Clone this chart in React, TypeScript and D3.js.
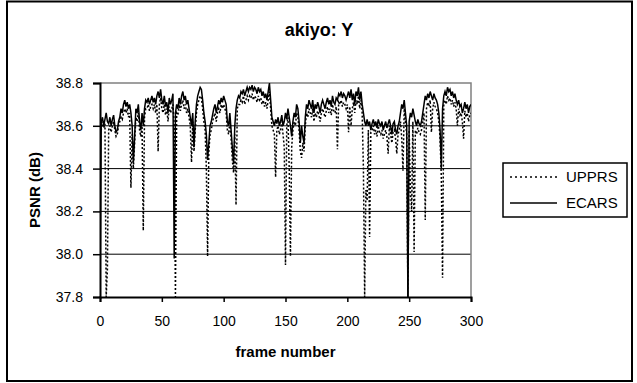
import * as d3 from 'd3';
import { useEffect, useRef } from 'react';

const chartTitle = 'akiyo: Y';
const xLabel = 'frame number';
const yLabel = 'PSNR (dB)';
const xTicks = [0, 50, 100, 150, 200, 250, 300];
const yTicks = [37.8, 38.0, 38.2, 38.4, 38.6, 38.8];
const seriesNames = ['UPPRS', 'ECARS'];

// frame 0..300
const upprs = [
  38.60, 38.58, 38.62, 38.59, 38.61, 37.80, 37.93, 38.58, 38.60, 38.57,
  38.60, 38.62, 38.58, 38.55, 38.56, 38.60, 38.62, 38.64, 38.63, 38.66,
  38.68, 38.66, 38.68, 38.64, 38.66, 38.31, 38.56, 38.40, 38.52, 38.64,
  38.62, 38.66, 38.58, 38.55, 38.60, 38.11, 38.64, 38.68, 38.68, 38.70,
  38.67, 38.69, 38.70, 38.68, 38.70, 38.66, 38.70, 38.48, 38.70, 38.73,
  38.68, 38.66, 38.70, 38.65, 38.68, 38.62, 38.69, 38.66, 38.68, 38.70,
  38.60, 37.80, 38.66, 38.65, 38.70, 38.67, 38.70, 38.72, 38.68, 38.70,
  38.66, 38.68, 38.64, 38.60, 38.43, 38.62, 38.48, 38.58, 38.66, 38.70,
  38.72, 38.74, 38.73, 38.68, 38.62, 38.58, 38.40, 37.99, 38.48, 38.56,
  38.58, 38.62, 38.64, 38.66, 38.62, 38.66, 38.68, 38.66, 38.70, 38.68,
  38.70, 38.68, 38.66, 38.58, 38.56, 38.62, 38.54, 38.44, 38.38, 38.56,
  38.23, 38.68, 38.70, 38.70, 38.72, 38.71, 38.74, 38.70, 38.72, 38.74,
  38.72, 38.74, 38.73, 38.75, 38.72, 38.74, 38.73, 38.71, 38.74, 38.72,
  38.73, 38.70, 38.72, 38.69, 38.71, 38.68, 38.72, 38.76, 38.68, 38.60,
  38.58, 38.56, 38.36, 38.58, 38.60, 38.56, 38.58, 38.62, 38.56, 38.50,
  37.95, 38.60, 38.64, 38.40, 37.99, 38.50, 38.58, 38.62, 38.60, 38.66,
  38.64, 38.58, 38.48, 38.45, 38.52, 38.48, 38.60, 38.66, 38.64, 38.68,
  38.66, 38.64, 38.68, 38.62, 38.66, 38.64, 38.67, 38.65, 38.62, 38.66,
  38.68, 38.66, 38.64, 38.67, 38.69, 38.66, 38.68, 38.65, 38.70, 38.67,
  38.66, 38.69, 38.49, 38.71, 38.70, 38.72, 38.69, 38.71, 38.70, 38.68,
  38.70, 38.57, 38.69, 38.60, 38.68, 38.71, 38.66, 38.72, 38.70, 38.74,
  38.68, 38.72, 38.66, 38.40, 37.80, 38.30, 38.25, 38.58, 38.08, 38.57,
  38.58, 38.60, 38.56, 38.58, 38.55, 38.60, 38.57, 38.56, 38.58, 38.54,
  38.56, 38.58, 38.55, 38.47, 38.60, 38.56, 38.52, 38.57, 38.58, 38.54,
  38.47, 38.56, 38.58, 38.62, 38.54, 38.39, 38.68, 38.62, 38.56, 37.80,
  38.58, 38.30, 38.20, 38.62, 38.01, 38.58, 38.56, 38.59, 38.57, 38.56,
  38.58, 38.62, 38.66, 38.16, 38.68, 38.71, 38.69, 38.72, 38.57, 38.68,
  38.71, 38.69, 38.68, 38.66, 38.62, 38.54, 38.36, 37.89, 38.70, 38.72,
  38.70, 38.74, 38.72, 38.73, 38.70, 38.72, 38.69, 38.71, 38.68, 38.60,
  38.68, 38.65, 38.66, 38.62, 38.54, 38.67, 38.64, 38.66, 38.62, 38.65,
  38.66,
];

const ecars = [
  37.78, 38.62, 38.64, 38.60, 38.63, 38.66, 38.62, 38.61, 38.64, 38.60,
  38.63, 38.65, 38.60, 38.57, 38.58, 38.62, 38.64, 38.68, 38.66, 38.70,
  38.72, 38.69, 38.71, 38.68, 38.70, 38.66, 38.60, 38.43, 38.55, 38.68,
  38.66, 38.70, 38.62, 38.58, 38.66, 38.60, 38.68, 38.72, 38.71, 38.73,
  38.70, 38.72, 38.74, 38.71, 38.73, 38.70, 38.74, 38.76, 38.73, 38.77,
  38.72, 38.70, 38.74, 38.69, 38.71, 38.66, 38.73, 38.70, 38.72, 38.75,
  37.98, 38.66, 38.70, 38.68, 38.73, 38.70, 38.74, 38.76, 38.72, 38.74,
  38.70, 38.72, 38.68, 38.64, 38.60, 38.66, 38.50, 38.62, 38.70, 38.74,
  38.76, 38.78, 38.77, 38.72, 38.66, 38.62, 38.56, 38.44, 38.52, 38.60,
  38.62, 38.65, 38.68, 38.70, 38.66, 38.69, 38.72, 38.70, 38.73, 38.71,
  38.74, 38.72, 38.70, 38.62, 38.60, 38.66, 38.58, 38.50, 38.42, 38.60,
  38.68, 38.72, 38.74, 38.73, 38.76, 38.75, 38.77, 38.74, 38.76, 38.78,
  38.76, 38.78, 38.77, 38.79, 38.76, 38.78, 38.77, 38.75, 38.78, 38.76,
  38.77, 38.74, 38.76, 38.73, 38.75, 38.72, 38.76, 38.80, 38.72, 38.64,
  38.62, 38.60, 38.63, 38.61, 38.64, 38.60, 38.62, 38.65, 38.60, 38.62,
  38.66, 38.63, 38.68, 38.64, 38.60, 38.55, 38.62, 38.66, 38.64, 38.70,
  38.68, 38.62, 38.52, 38.60, 38.55, 38.52, 38.64, 38.70, 38.68, 38.72,
  38.70, 38.68, 38.72, 38.66, 38.70, 38.68, 38.71, 38.69, 38.66, 38.70,
  38.72, 38.70, 38.68, 38.71, 38.73, 38.70, 38.72, 38.69, 38.74, 38.71,
  38.70, 38.73, 38.72, 38.75, 38.74, 38.76, 38.73, 38.75, 38.74, 38.72,
  38.74, 38.76, 38.73, 38.77, 38.72, 38.75, 38.70, 38.76, 38.74, 38.78,
  38.72, 38.76, 38.70, 38.66, 38.62, 38.60, 38.63, 38.60, 38.62, 38.58,
  38.61, 38.63, 38.60, 38.62, 38.59, 38.63, 38.61, 38.60, 38.62, 38.58,
  38.60, 38.62, 38.59, 38.61, 38.63, 38.60, 38.56, 38.61, 38.62, 38.58,
  38.56, 38.60, 38.62, 38.66, 38.70, 38.68, 38.72, 38.66, 38.60, 37.78,
  38.62, 38.66, 38.64, 38.68, 38.65, 38.62, 38.60, 38.63, 38.61, 38.60,
  38.62, 38.66, 38.70, 38.74, 38.72, 38.75, 38.73, 38.76, 38.74, 38.72,
  38.75, 38.73, 38.72, 38.70, 38.66, 38.58, 38.40, 38.68, 38.74, 38.76,
  38.74, 38.78, 38.76, 38.77, 38.74, 38.76, 38.73, 38.75, 38.72, 38.70,
  38.72, 38.69, 38.70, 38.66, 38.68, 38.71, 38.68, 38.70, 38.66, 38.69,
  38.70,
];

const App = () => {
  const width = 637;
  const height = 383;
  const left = 100, right = 471, top = 83, bottom = 297;
  const font = '"Liberation Sans", Arial, sans-serif';

  const svgRef = useRef(null);

  useEffect(() => {
    const svg = d3.select(svgRef.current);
    svg.selectAll('*').remove();

    const xScale = d3.scaleLinear().domain([0, 300]).range([left, right]);
    const yScale = d3.scaleLinear().domain([37.8, 38.8]).range([bottom, top]);

    // outer frame
    svg.append('rect')
      .attr('x', 7).attr('y', 1.5).attr('width', 625).attr('height', 379.5)
      .attr('fill', 'white').attr('stroke', 'black').attr('stroke-width', 2);

    svg.append('text')
      .attr('x', 319).attr('y', 36)
      .attr('text-anchor', 'middle')
      .attr('font-family', font).attr('font-size', 18).attr('font-weight', 'bold')
      .text(chartTitle);

    // grid lines
    svg.append('g').selectAll('line')
      .data(yTicks.filter(d => d > 37.8 && d < 38.8))
      .join('line')
      .attr('x1', left).attr('x2', right)
      .attr('y1', d => yScale(d)).attr('y2', d => yScale(d))
      .attr('stroke', 'black').attr('stroke-width', 1);

    // plot area border (top, right) in grey
    svg.append('path')
      .attr('d', `M${left},${top}H${right}V${bottom}`)
      .attr('fill', 'none').attr('stroke', '#808080').attr('stroke-width', 1.5);

    const clip = svg.append('clipPath').attr('id', 'plotclip');
    clip.append('rect').attr('x', left).attr('y', top - 2).attr('width', right - left).attr('height', bottom - top + 2);

    const line = d3.line<number>().x((d, i) => xScale(i)).y(d => yScale(d));

    svg.append('path')
      .attr('clip-path', 'url(#plotclip)')
      .attr('d', line(upprs))
      .attr('fill', 'none').attr('stroke', 'black').attr('stroke-width', 1.5)
      .attr('stroke-dasharray', '2,2');

    svg.append('path')
      .attr('clip-path', 'url(#plotclip)')
      .attr('d', line(ecars))
      .attr('fill', 'none').attr('stroke', 'black').attr('stroke-width', 1.5);

    const yAxis = d3.axisLeft(yScale).tickValues(yTicks).tickFormat(d3.format('.1f')).tickSize(7).tickPadding(10);
    const yg = svg.append('g').attr('transform', `translate(${left},0)`).call(yAxis);
    yg.select('.domain').attr('stroke-width', 2);
    yg.selectAll('.tick line').attr('stroke-width', 1.5);
    yg.selectAll('text').attr('font-family', font).attr('font-size', 14).attr('fill', 'black');

    const xAxis = d3.axisBottom(xScale).tickValues(xTicks).tickSize(5).tickPadding(14);
    const xg = svg.append('g').attr('transform', `translate(0,${bottom})`).call(xAxis);
    xg.select('.domain').attr('stroke-width', 2);
    xg.selectAll('.tick line').attr('stroke-width', 1.5);
    xg.selectAll('text').attr('font-family', font).attr('font-size', 14).attr('fill', 'black');

    svg.append('text')
      .attr('x', (left + right) / 2).attr('y', 357)
      .attr('text-anchor', 'middle')
      .attr('font-family', font).attr('font-size', 15).attr('font-weight', 'bold')
      .text(xLabel);

    svg.append('text')
      .attr('transform', `translate(40,${(top + bottom) / 2}) rotate(-90)`)
      .attr('text-anchor', 'middle')
      .attr('font-family', font).attr('font-size', 15).attr('font-weight', 'bold')
      .text(yLabel);

    // legend
    const lg = svg.append('g');
    lg.append('rect')
      .attr('x', 503).attr('y', 163).attr('width', 124).attr('height', 54)
      .attr('fill', 'white').attr('stroke', 'black').attr('stroke-width', 1.5);
    seriesNames.forEach((name, i) => {
      const cy = 177 + i * 26;
      lg.append('line')
        .attr('x1', 510).attr('x2', 557).attr('y1', cy).attr('y2', cy)
        .attr('stroke', 'black').attr('stroke-width', 1.5)
        .attr('stroke-dasharray', i === 0 ? '2,3' : null);
      lg.append('text')
        .attr('x', 566).attr('y', cy + 5)
        .attr('font-family', font).attr('font-size', 15)
        .text(name);
    });
  }, []);

  return (
    <svg ref={svgRef} width={width} height={height} viewBox="0 0 637 383"
      style={{ position: 'absolute', left: 0, top: 0, background: 'white' }} />
  );
};

export default App;
